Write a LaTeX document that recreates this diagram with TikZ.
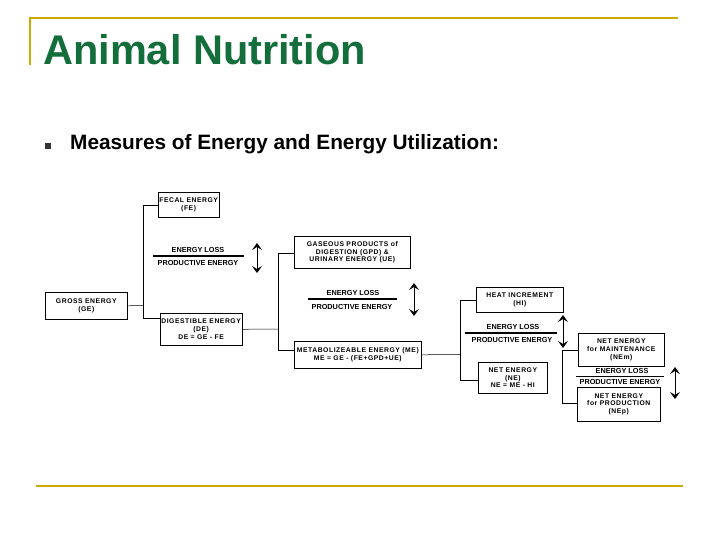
\documentclass[tikz,border=0pt]{standalone}
\usepackage{fontspec}
\setmainfont{Liberation Sans}
\newfontfamily\spaced[LetterSpace=8]{Liberation Sans}
\usetikzlibrary{arrows.meta}
\definecolor{gold}{RGB}{204,170,0}
\definecolor{tgreen}{RGB}{20,110,60}
\begin{document}
\begin{tikzpicture}[x=1pt,y=-1pt,
 bx/.style={draw,line width=0.6pt,fill=white,font=\spaced\bfseries\fontsize{6.8}{7.8}\selectfont,align=center,inner sep=1pt,anchor=north west},
 lbl/.style={font=\bfseries\fontsize{7.3}{8}\selectfont,inner sep=0pt},
 ln/.style={line width=0.5pt},
 dbl/.style={{Stealth[length=7pt,width=10pt,inset=3pt]}-{Stealth[length=7pt,width=10pt,inset=3pt]},line width=1pt}]
\useasboundingbox (0,0) rectangle (720,540);
\draw[gold,line width=1.5pt] (30,65)--(30,18)--(678,18);
\draw[gold,line width=1.5pt] (36,486)--(683,486);
\node[anchor=base west,inner sep=0pt,text=tgreen,font=\bfseries\fontsize{41.5}{44}\selectfont] (title) at (43,65) {Animal Nutrition};
\node[fill=black!80,minimum size=5.5pt,inner sep=0pt] (bul) at (48,146) {};
\node[anchor=base west,inner sep=0pt,font=\bfseries\fontsize{20.8}{24}\selectfont] (sub) at (70,150) {Measures of Energy and Energy Utilization:};
% boxes
\node[bx,minimum width=54pt,minimum height=25pt] (fe) at (158,192) {FECAL ENERGY\\(FE)};
\node[bx,minimum width=82pt,minimum height=27pt] (ge) at (45,292) {GROSS ENERGY\\(GE)};
\node[bx,minimum width=76pt,minimum height=32pt] (de) at (160,313) {DIGESTIBLE ENERGY\\(DE)\\DE = GE - FE};
\node[bx,minimum width=116pt,minimum height=32pt] (gpd) at (294,236) {GASEOUS PRODUCTS of\\DIGESTION (GPD) \&\\URINARY ENERGY (UE)};
\node[bx,minimum width=127pt,minimum height=27pt] (me) at (294,341) {METABOLIZEABLE ENERGY (ME)\\ME = GE - (FE+GPD+UE)};
\node[bx,minimum width=87pt,minimum height=25pt] (hi) at (476,287) {HEAT INCREMENT\\(HI)};
\node[bx,minimum width=69pt,minimum height=31pt] (ne) at (478,362) {NET ENERGY\\(NE)\\NE = ME - HI};
\node[bx,minimum width=86pt,minimum height=33pt] (nem) at (578,333) {NET ENERGY\\for MAINTENANCE\\(NEm)};
\node[bx,minimum width=83pt,minimum height=34pt] (nep) at (577,387) {NET ENERGY\\for PRODUCTION\\(NEp)};
% connectors
\draw[ln] (ge.east) -- (143,305.5);
\draw[ln] (143,205) -- (143,318);
\draw[ln] (143,205) -- (fe.west |- 0,205);
\draw[ln] (143,318) -- (de.west |- 0,318);
\draw[ln] (de.east) -- (278,329);
\draw[ln] (278,253) -- (278,350);
\draw[ln] (278,253) -- (gpd.west |- 0,253);
\draw[ln] (278,350) -- (me.west |- 0,350);
\draw[ln] (me.east) -- (460,354.5);
\draw[ln] (460,300) -- (460,380);
\draw[ln] (460,300) -- (hi.west |- 0,300);
\draw[ln] (460,380) -- (ne.west |- 0,380);
\draw[ln] (562,350) -- (562,403);
\draw[ln] (562,350) -- (nem.west |- 0,350);
\draw[ln] (562,403) -- (nep.west |- 0,403);
% energy loss labels
\node[lbl] (el1) at (198,250) {ENERGY LOSS};
\draw[line width=1.2pt] (153,256)--(244,256);
\node[lbl] (pe1) at (198,263) {PRODUCTIVE ENERGY};
\coordinate (a1t) at (257,243); \coordinate (a1b) at (257,273);
\draw[dbl] (a1t)--(a1b);
\node[lbl] (el2) at (353,293) {ENERGY LOSS};
\draw[line width=1.2pt] (308,299)--(397,299);
\node[lbl] (pe2) at (352,307) {PRODUCTIVE ENERGY};
\coordinate (a2t) at (414,283); \coordinate (a2b) at (414,316);
\draw[dbl] (a2t)--(a2b);
\node[lbl] (el3) at (513,327) {ENERGY LOSS};
\draw[line width=1.2pt] (465,333)--(557,333);
\node[lbl] (pe3) at (512,340) {PRODUCTIVE ENERGY};
\coordinate (a3t) at (563,315); \coordinate (a3b) at (563,348);
\draw[dbl] (a3t)--(a3b);
\node[lbl] (el4) at (622,371) {ENERGY LOSS};
\draw[line width=1pt] (576,376)--(664,376);
\node[lbl] (pe4) at (620,382) {PRODUCTIVE ENERGY};
\coordinate (a4t) at (675,367); \coordinate (a4b) at (675,399);
\draw[dbl] (a4t)--(a4b);
\end{tikzpicture}
\end{document}
